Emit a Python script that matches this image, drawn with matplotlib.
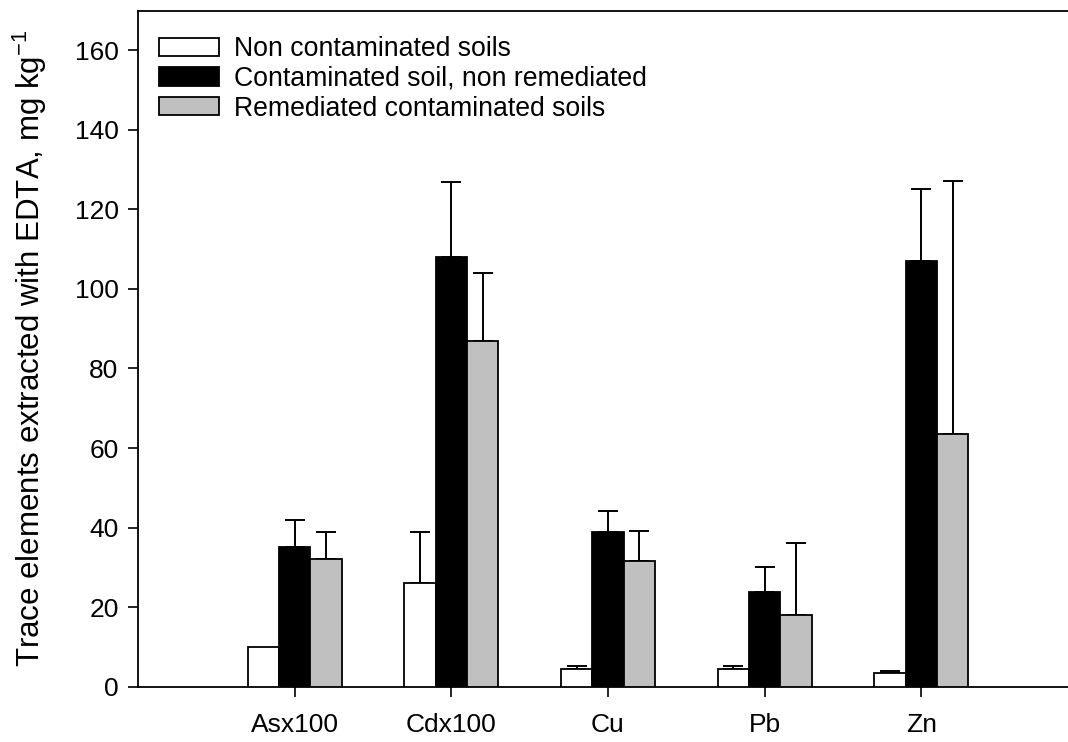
import matplotlib
matplotlib.use("Agg")
import matplotlib.pyplot as plt
import numpy as np

plt.rcParams["font.family"] = ["Liberation Sans", "DejaVu Sans"]
plt.rcParams["mathtext.fontset"] = "custom"
plt.rcParams["mathtext.rm"] = "Liberation Sans"

# values
elements = ["Asx100", "Cdx100", "Cu", "Pb", "Zn"]
series_names = ["Non contaminated soils",
                "Contaminated soil, non remediated",
                "Remediated contaminated soils"]
non_contaminated = [10.0, 26.0, 4.5, 4.5, 3.4]
non_contaminated_err = [np.nan, 13.0, 0.7, 0.7, 0.5]
contaminated = [35.0, 108.0, 39.0, 23.7, 107.0]
contaminated_err = [7.0, 19.0, 5.2, 6.4, 18.2]
remediated = [32.0, 87.0, 31.6, 18.0, 63.6]
remediated_err = [7.0, 17.0, 7.6, 18.2, 63.5]

colors = ["white", "black", "#c0c0c0"]

fig = plt.figure(figsize=(10.68, 7.42), dpi=100)
ax = fig.add_axes([138 / 1068, 55.3 / 742, 940 / 1068, 676.2 / 742])

x = np.arange(1, len(elements) + 1)
width = 0.2
means = [non_contaminated, contaminated, remediated]
errs = [non_contaminated_err, contaminated_err, remediated_err]

for i, (m, e) in enumerate(zip(means, errs)):
    pos = x + (i - 1) * width
    ax.bar(pos, m, width, color=colors[i], edgecolor="black", linewidth=1.3,
           label=series_names[i], zorder=3)
    m = np.array(m)
    e = np.array(e)
    ok = ~np.isnan(e)
    ax.errorbar(pos[ok], m[ok], yerr=[np.zeros(ok.sum()), e[ok]], fmt="none",
                ecolor="black", elinewidth=1.4, capsize=7, capthick=1.4, zorder=2)

ax.set_xlim(0, 6)
ax.set_ylim(0, 170)
ax.set_xticks(x)
ax.set_xticklabels(elements)
ax.set_yticks(np.arange(0, 161, 20))
ax.tick_params(axis="both", direction="out", length=7, width=1.2, labelsize=19)
ax.tick_params(axis="x", pad=12)
ax.tick_params(axis="y", pad=7)
for s in ["left", "bottom", "top"]:
    ax.spines[s].set_linewidth(1.3)
ax.spines["right"].set_visible(False)

ax.set_ylabel(r"Trace elements extracted with EDTA, mg kg$^{\mathregular{-1}}$",
              fontsize=22.5)
ax.yaxis.set_label_coords(-0.095, 0.5)

ax.legend(loc="upper left", bbox_to_anchor=(0.022, 0.962), frameon=False,
          fontsize=19.2, handlelength=2.25, handleheight=0.68, labelspacing=0.14,
          handletextpad=0.58, borderpad=0, borderaxespad=0)

fig.savefig("out.png", dpi=100)
